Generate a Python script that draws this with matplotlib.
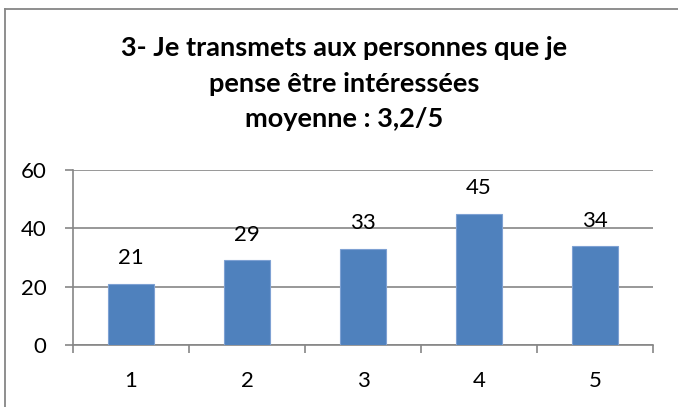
import matplotlib
matplotlib.use('Agg')
from matplotlib import pyplot as plt
from matplotlib.lines import Line2D

plt.rcParams['font.family'] = ['Lato', 'DejaVu Sans']

# data
categories = ['1', '2', '3', '4', '5']
values = [21, 29, 33, 45, 34]
yticks = [0, 20, 40, 60]
title_lines = ["3- Je transmets aux personnes que je",
               "pense être intéressées",
               "moyenne : 3,2/5"]

W, H = 678, 407
fig = plt.figure(figsize=(W / 100, H / 100), dpi=100)
ax = fig.add_axes([73 / W, 1 - 345 / H, 580 / W, 175 / H])

x = list(range(len(categories)))
ax.bar(x, values, width=0.4, color='#4F81BD', edgecolor='#7EA1D3', linewidth=0.8, zorder=3)
for xi, v in zip(x, values):
    ax.annotate(str(v), (xi, v), xytext=(0, 11), textcoords='offset points',
                ha='center', va='bottom', fontsize=16, color='black')

ax.set_xlim(-0.5, len(categories) - 0.5)
ax.set_ylim(0, 60)
ax.set_yticks(yticks)
ax.set_yticklabels([str(t) for t in yticks], fontsize=16)
ax.set_xticks(x)
ax.set_xticklabels(categories, fontsize=16)
ax.grid(axis='y', color='#868686', linewidth=1.2, zorder=0)

# category boundary ticks on x axis
ax.set_xticks([i - 0.5 for i in range(len(categories) + 1)], minor=True)
ax.tick_params(axis='x', which='major', length=0, pad=19)
ax.tick_params(axis='x', which='minor', length=6, width=1.2, color='#868686', direction='out')
ax.tick_params(axis='y', length=6, width=1.2, color='#868686', pad=13)

for s in ['top', 'right']:
    ax.spines[s].set_visible(False)
for s in ['left', 'bottom']:
    ax.spines[s].set_color('#868686')
    ax.spines[s].set_linewidth(1.2)

# title, one line at a time
title_y = [56, 91.5, 127]
for txt, ty in zip(title_lines, title_y):
    fig.text(344 / W, 1 - ty / H, txt, ha='center', va='baseline',
             fontsize=19.5, fontweight='bold')

# outer frame (only top and left edges visible)
fig.add_artist(Line2D([4.5 / W, 1], [1 - 8.5 / H, 1 - 8.5 / H], color='#868686', linewidth=1.3))
fig.add_artist(Line2D([4.5 / W, 4.5 / W], [0, 1 - 8.5 / H], color='#868686', linewidth=1.3))

fig.savefig('out.png', dpi=100)
